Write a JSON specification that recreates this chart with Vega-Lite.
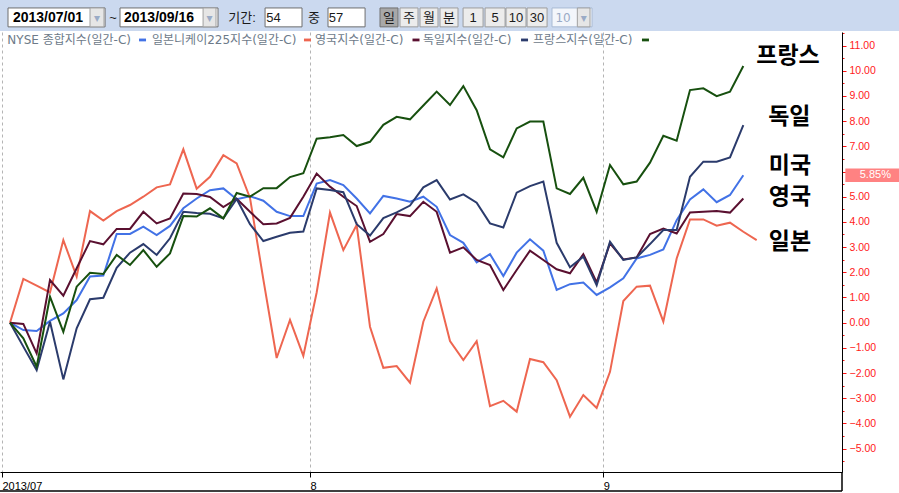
{
"$schema": "https://vega.github.io/schema/vega-lite/v6.json",
"width": 842, "height": 440,
"autosize": {"type": "none"},
"padding": {"left": 0, "top": 32, "right": 57, "bottom": 21},
"background": "white",
"view": {"stroke": null},
"config": {"font": "Liberation Sans"},
"resolve": {"axis": {"x": "independent", "y": "independent"}},
"datasets": {
"series": [
{"t":0,"s":"NYSE","v":0},{"t":1,"s":"NYSE","v":-0.29},{"t":2,"s":"NYSE","v":-0.33},{"t":3,"s":"NYSE","v":0.07},{"t":4,"s":"NYSE","v":0.37},{"t":5,"s":"NYSE","v":0.90},{"t":6,"s":"NYSE","v":1.83},{"t":7,"s":"NYSE","v":1.87},{"t":8,"s":"NYSE","v":3.52},{"t":9,"s":"NYSE","v":3.52},{"t":10,"s":"NYSE","v":3.81},{"t":11,"s":"NYSE","v":3.48},{"t":12,"s":"NYSE","v":3.84},{"t":13,"s":"NYSE","v":4.54},{"t":14,"s":"NYSE","v":4.93},{"t":15,"s":"NYSE","v":5.26},{"t":16,"s":"NYSE","v":5.33},{"t":17,"s":"NYSE","v":4.90},{"t":18,"s":"NYSE","v":5.02},{"t":19,"s":"NYSE","v":4.84},{"t":20,"s":"NYSE","v":4.40},{"t":21,"s":"NYSE","v":4.23},{"t":22,"s":"NYSE","v":4.23},{"t":23,"s":"NYSE","v":5.52},{"t":24,"s":"NYSE","v":5.66},{"t":25,"s":"NYSE","v":5.46},{"t":26,"s":"NYSE","v":4.93},{"t":27,"s":"NYSE","v":4.34},{"t":28,"s":"NYSE","v":5.03},{"t":29,"s":"NYSE","v":4.93},{"t":30,"s":"NYSE","v":4.80},{"t":31,"s":"NYSE","v":5.00},{"t":32,"s":"NYSE","v":4.60},{"t":33,"s":"NYSE","v":3.48},{"t":34,"s":"NYSE","v":3.17},{"t":35,"s":"NYSE","v":2.39},{"t":36,"s":"NYSE","v":2.72},{"t":37,"s":"NYSE","v":1.85},{"t":38,"s":"NYSE","v":2.78},{"t":39,"s":"NYSE","v":3.31},{"t":40,"s":"NYSE","v":2.86},{"t":41,"s":"NYSE","v":1.30},{"t":42,"s":"NYSE","v":1.53},{"t":43,"s":"NYSE","v":1.59},{"t":44,"s":"NYSE","v":1.10},{"t":45,"s":"NYSE","v":1.40},{"t":46,"s":"NYSE","v":1.76},{"t":47,"s":"NYSE","v":2.55},{"t":48,"s":"NYSE","v":2.69},{"t":49,"s":"NYSE","v":2.91},{"t":50,"s":"NYSE","v":4.07},{"t":51,"s":"NYSE","v":4.89},{"t":52,"s":"NYSE","v":5.29},{"t":53,"s":"NYSE","v":4.78},{"t":54,"s":"NYSE","v":5.07},{"t":55,"s":"NYSE","v":5.85},
{"t":0,"s":"JP","v":0},{"t":1,"s":"JP","v":1.74},{"t":2,"s":"JP","v":1.47},{"t":3,"s":"JP","v":1.20},{"t":4,"s":"JP","v":3.28},{"t":5,"s":"JP","v":1.83},{"t":6,"s":"JP","v":4.43},{"t":7,"s":"JP","v":4.05},{"t":8,"s":"JP","v":4.43},{"t":9,"s":"JP","v":4.67},{"t":10,"s":"JP","v":5.00},{"t":11,"s":"JP","v":5.37},{"t":12,"s":"JP","v":5.49},{"t":13,"s":"JP","v":6.88},{"t":14,"s":"JP","v":5.32},{"t":15,"s":"JP","v":5.79},{"t":16,"s":"JP","v":6.65},{"t":17,"s":"JP","v":6.32},{"t":18,"s":"JP","v":4.95},{"t":19,"s":"JP","v":1.72},{"t":20,"s":"JP","v":-1.40},{"t":21,"s":"JP","v":0.11},{"t":22,"s":"JP","v":-1.32},{"t":23,"s":"JP","v":1.20},{"t":24,"s":"JP","v":4.37},{"t":25,"s":"JP","v":2.88},{"t":26,"s":"JP","v":3.88},{"t":27,"s":"JP","v":-0.16},{"t":28,"s":"JP","v":-1.79},{"t":29,"s":"JP","v":-1.72},{"t":30,"s":"JP","v":-2.38},{"t":31,"s":"JP","v":0.04},{"t":32,"s":"JP","v":1.36},{"t":33,"s":"JP","v":-0.73},{"t":34,"s":"JP","v":-1.48},{"t":35,"s":"JP","v":-0.73},{"t":36,"s":"JP","v":-3.31},{"t":37,"s":"JP","v":-3.10},{"t":38,"s":"JP","v":-3.53},{"t":39,"s":"JP","v":-1.44},{"t":40,"s":"JP","v":-1.57},{"t":41,"s":"JP","v":-2.28},{"t":42,"s":"JP","v":-3.73},{"t":43,"s":"JP","v":-2.87},{"t":44,"s":"JP","v":-3.38},{"t":45,"s":"JP","v":-1.95},{"t":46,"s":"JP","v":0.86},{"t":47,"s":"JP","v":1.43},{"t":48,"s":"JP","v":1.47},{"t":49,"s":"JP","v":0.04},{"t":50,"s":"JP","v":2.55},{"t":51,"s":"JP","v":4.10},{"t":52,"s":"JP","v":4.10},{"t":53,"s":"JP","v":3.85},{"t":54,"s":"JP","v":3.97},{"t":55,"s":"JP","v":3.61},{"t":56,"s":"JP","v":3.28},
{"t":0,"s":"UK","v":0},{"t":1,"s":"UK","v":-0.05},{"t":2,"s":"UK","v":-1.22},{"t":3,"s":"UK","v":1.69},{"t":4,"s":"UK","v":1.07},{"t":5,"s":"UK","v":2.16},{"t":6,"s":"UK","v":3.24},{"t":7,"s":"UK","v":3.11},{"t":8,"s":"UK","v":3.72},{"t":9,"s":"UK","v":3.72},{"t":10,"s":"UK","v":4.40},{"t":11,"s":"UK","v":3.94},{"t":12,"s":"UK","v":4.14},{"t":13,"s":"UK","v":5.13},{"t":14,"s":"UK","v":5.11},{"t":15,"s":"UK","v":4.99},{"t":16,"s":"UK","v":4.59},{"t":17,"s":"UK","v":4.92},{"t":18,"s":"UK","v":4.40},{"t":19,"s":"UK","v":3.91},{"t":20,"s":"UK","v":3.94},{"t":21,"s":"UK","v":4.16},{"t":22,"s":"UK","v":5.00},{"t":23,"s":"UK","v":5.92},{"t":24,"s":"UK","v":5.40},{"t":25,"s":"UK","v":5.00},{"t":26,"s":"UK","v":4.63},{"t":27,"s":"UK","v":3.21},{"t":28,"s":"UK","v":3.52},{"t":29,"s":"UK","v":4.31},{"t":30,"s":"UK","v":4.23},{"t":31,"s":"UK","v":4.80},{"t":32,"s":"UK","v":4.40},{"t":33,"s":"UK","v":2.78},{"t":34,"s":"UK","v":2.99},{"t":35,"s":"UK","v":2.49},{"t":36,"s":"UK","v":2.29},{"t":37,"s":"UK","v":1.30},{"t":38,"s":"UK","v":2.09},{"t":39,"s":"UK","v":2.86},{"t":40,"s":"UK","v":2.49},{"t":41,"s":"UK","v":2.12},{"t":42,"s":"UK","v":1.96},{"t":43,"s":"UK","v":2.72},{"t":44,"s":"UK","v":1.60},{"t":45,"s":"UK","v":3.15},{"t":46,"s":"UK","v":2.51},{"t":47,"s":"UK","v":2.59},{"t":48,"s":"UK","v":3.52},{"t":49,"s":"UK","v":3.74},{"t":50,"s":"UK","v":3.54},{"t":51,"s":"UK","v":4.37},{"t":52,"s":"UK","v":4.40},{"t":53,"s":"UK","v":4.43},{"t":54,"s":"UK","v":4.37},{"t":55,"s":"UK","v":4.93},
{"t":0,"s":"DE","v":0},{"t":1,"s":"DE","v":-0.95},{"t":2,"s":"DE","v":-1.88},{"t":3,"s":"DE","v":0.04},{"t":4,"s":"DE","v":-2.25},{"t":5,"s":"DE","v":-0.22},{"t":6,"s":"DE","v":0.93},{"t":7,"s":"DE","v":0.99},{"t":8,"s":"DE","v":2.18},{"t":9,"s":"DE","v":2.78},{"t":10,"s":"DE","v":3.12},{"t":11,"s":"DE","v":2.69},{"t":12,"s":"DE","v":3.35},{"t":13,"s":"DE","v":4.40},{"t":14,"s":"DE","v":4.35},{"t":15,"s":"DE","v":4.32},{"t":16,"s":"DE","v":4.14},{"t":17,"s":"DE","v":4.91},{"t":18,"s":"DE","v":3.91},{"t":19,"s":"DE","v":3.24},{"t":20,"s":"DE","v":3.41},{"t":21,"s":"DE","v":3.57},{"t":22,"s":"DE","v":3.62},{"t":23,"s":"DE","v":5.33},{"t":24,"s":"DE","v":5.27},{"t":25,"s":"DE","v":5.18},{"t":26,"s":"DE","v":3.91},{"t":27,"s":"DE","v":3.46},{"t":28,"s":"DE","v":4.15},{"t":29,"s":"DE","v":4.38},{"t":30,"s":"DE","v":4.65},{"t":31,"s":"DE","v":5.37},{"t":32,"s":"DE","v":5.66},{"t":33,"s":"DE","v":4.89},{"t":34,"s":"DE","v":5.09},{"t":35,"s":"DE","v":4.76},{"t":36,"s":"DE","v":3.94},{"t":37,"s":"DE","v":3.78},{"t":38,"s":"DE","v":5.16},{"t":39,"s":"DE","v":5.42},{"t":40,"s":"DE","v":5.60},{"t":41,"s":"DE","v":3.17},{"t":42,"s":"DE","v":2.20},{"t":43,"s":"DE","v":2.62},{"t":44,"s":"DE","v":1.49},{"t":45,"s":"DE","v":3.21},{"t":46,"s":"DE","v":2.49},{"t":47,"s":"DE","v":2.59},{"t":48,"s":"DE","v":3.12},{"t":49,"s":"DE","v":3.68},{"t":50,"s":"DE","v":3.68},{"t":51,"s":"DE","v":5.79},{"t":52,"s":"DE","v":6.39},{"t":53,"s":"DE","v":6.39},{"t":54,"s":"DE","v":6.56},{"t":55,"s":"DE","v":7.84},
{"t":0,"s":"FR","v":0},{"t":1,"s":"FR","v":-0.62},{"t":2,"s":"FR","v":-1.75},{"t":3,"s":"FR","v":1.03},{"t":4,"s":"FR","v":-0.36},{"t":5,"s":"FR","v":1.43},{"t":6,"s":"FR","v":1.98},{"t":7,"s":"FR","v":1.93},{"t":8,"s":"FR","v":2.69},{"t":9,"s":"FR","v":2.29},{"t":10,"s":"FR","v":2.88},{"t":11,"s":"FR","v":2.22},{"t":12,"s":"FR","v":2.75},{"t":13,"s":"FR","v":4.23},{"t":14,"s":"FR","v":4.21},{"t":15,"s":"FR","v":4.54},{"t":16,"s":"FR","v":4.14},{"t":17,"s":"FR","v":5.15},{"t":18,"s":"FR","v":5.00},{"t":19,"s":"FR","v":5.34},{"t":20,"s":"FR","v":5.34},{"t":21,"s":"FR","v":5.78},{"t":22,"s":"FR","v":5.93},{"t":23,"s":"FR","v":7.30},{"t":24,"s":"FR","v":7.36},{"t":25,"s":"FR","v":7.45},{"t":26,"s":"FR","v":7.01},{"t":27,"s":"FR","v":7.18},{"t":28,"s":"FR","v":7.85},{"t":29,"s":"FR","v":8.17},{"t":30,"s":"FR","v":8.07},{"t":31,"s":"FR","v":8.62},{"t":32,"s":"FR","v":9.17},{"t":33,"s":"FR","v":8.64},{"t":34,"s":"FR","v":9.39},{"t":35,"s":"FR","v":8.43},{"t":36,"s":"FR","v":6.88},{"t":37,"s":"FR","v":6.56},{"t":38,"s":"FR","v":7.71},{"t":39,"s":"FR","v":7.98},{"t":40,"s":"FR","v":7.98},{"t":41,"s":"FR","v":5.33},{"t":42,"s":"FR","v":5.11},{"t":43,"s":"FR","v":5.75},{"t":44,"s":"FR","v":4.40},{"t":45,"s":"FR","v":6.26},{"t":46,"s":"FR","v":5.49},{"t":47,"s":"FR","v":5.60},{"t":48,"s":"FR","v":6.35},{"t":49,"s":"FR","v":7.42},{"t":50,"s":"FR","v":7.22},{"t":51,"s":"FR","v":9.23},{"t":52,"s":"FR","v":9.30},{"t":53,"s":"FR","v":8.99},{"t":54,"s":"FR","v":9.17},{"t":55,"s":"FR","v":10.19}
],
"legend": [
{"s":"NYSE","label":"NYSE 종합지수(일간-C)","lt":-0.2,"dt":9.94},
{"s":"JP","label":"일본니케이225지수(일간-C)","lt":10.65,"dt":22.31},
{"s":"UK","label":"영국지수(일간-C)","lt":22.88,"dt":30.45},
{"s":"DE","label":"독일지수(일간-C)","lt":30.98,"dt":38.59},
{"s":"FR","label":"프랑스지수(일간-C)","lt":39.23,"dt":47.66}
],
"notes": [
{"label":"프랑스","t":58.35,"v":10.58},
{"label":"독일","t":58.45,"v":8.16},
{"label":"미국","t":58.5,"v":6.22},
{"label":"영국","t":58.5,"v":4.99},
{"label":"일본","t":58.5,"v":3.20}
],
"badge": [{"label":"5.85%","v":5.85}],
"tb": [
{"k":"in","a":-0.15,"b":7.13},{"k":"dd","a":6.0,"b":7.05},{"k":"in","a":8.25,"b":15.6},{"k":"dd","a":14.48,"b":15.45},{"k":"in","a":19.13,"b":21.9},{"k":"in","a":23.85,"b":26.63},{"k":"on","a":27.75,"b":29.1},{"k":"btn","a":29.25,"b":30.6},{"k":"btn","a":30.75,"b":32.1},{"k":"btn","a":32.25,"b":33.6},{"k":"btn","a":33.98,"b":35.48},{"k":"btn","a":35.63,"b":37.13},{"k":"btn","a":37.2,"b":38.7},{"k":"btn","a":38.78,"b":40.28},{"k":"off","a":40.65,"b":43.65},{"k":"dd","a":42.55,"b":43.5}
],
"tt1": [{"txt":"2013/07/01","t":0.22},{"txt":"2013/09/16","t":8.55}],
"tt2": [{"txt":"~","t":7.73},{"txt":"기간:","t":17.4},{"txt":"54","t":19.76},{"txt":"중","t":22.8},{"txt":"57","t":24.45},{"txt":"일","t":28.43},{"txt":"주","t":29.93},{"txt":"월","t":31.43},{"txt":"분","t":32.93},{"txt":"1","t":34.73},{"txt":"5","t":36.38},{"txt":"10","t":37.95},{"txt":"30","t":39.53}],
"tt3": [{"txt":"▾","t":6.53},{"txt":"▾","t":14.96},{"txt":"10","t":41.48},{"txt":"▾","t":43.03}]
},
"layer": [
{
"data": {"name": "series"},
"mark": {"type": "line", "strokeWidth": 2},
"encoding": {
"x": {"field": "t", "type": "quantitative", "scale": {"domain": [-0.75, 62.4], "nice": false, "zero": false},
"axis": {"orient": "bottom", "values": [-0.6, 22.5, 44.5], "labelExpr": "datum.value < 0 ? '2013/07' : (datum.value < 30 ? '8' : '9')", "labelAlign": "left", "labelFlush": false, "labelBaseline": "top", "labelPadding": 3, "labelOverlap": false, "tickSize": 5, "tickColor": "black", "domainColor": "black", "grid": true, "gridColor": "#b4b4b4", "gridDash": [3, 3], "title": null, "labelColor": "black", "labelFontSize": 11, "labelFont": "Liberation Sans"}},
"y": {"field": "v", "type": "quantitative", "scale": {"domain": [-5.925, 11.536], "nice": false, "zero": false},
"axis": {"orient": "right", "values": [-5.5,-5,-4.5,-4,-3.5,-3,-2.5,-2,-1.5,-1,-0.5,0,0.5,1,1.5,2,2.5,3,3.5,4,4.5,5,5.5,6,6.5,7,7.5,8,8.5,9,9.5,10,10.5,11,11.5],
"labelExpr": "datum.value % 1 === 0 && datum.value !== 6 ? format(datum.value, '.2f') : ''",
"tickSize": {"condition": {"test": "datum.value % 1 !== 0", "value": 2}, "value": 4},
"tickColor": "#ff1010", "labelColor": "#ff1a1a", "domainColor": "black", "grid": false, "title": null,
"labelFontSize": 10.5, "labelPadding": 3, "labelOverlap": false, "labelFont": "Liberation Sans"}},
"color": {"field": "s", "type": "nominal", "scale": {"domain": ["NYSE", "JP", "UK", "DE", "FR"], "range": ["#4272e6", "#ee6650", "#5a1030", "#2b3b6c", "#17500f"]}, "legend": null}
}
},
{
"data": {"values": [{}]},
"mark": {"type": "rect", "fill": "#cbd9ef"},
"encoding": {"x": {"datum": -0.75, "type": "quantitative", "axis": null}, "x2": {"datum": 66.75}, "y": {"datum": 12.81, "type": "quantitative", "axis": null}, "y2": {"datum": 11.58}}
},
{
"data": {"name": "tb"},
"mark": {"type": "rect", "strokeWidth": 1},
"encoding": {
"x": {"field": "a", "type": "quantitative", "axis": null}, "x2": {"field": "b"},
"y": {"datum": 12.49, "type": "quantitative", "axis": null}, "y2": {"datum": 11.74},
"fill": {"field": "k", "type": "nominal", "scale": {"domain": ["in", "dd", "on", "btn", "off"], "range": ["#ffffff", "#e6e6e6", "#a8a8a8", "#ececec", "#f3f6fb"]}, "legend": null},
"stroke": {"field": "k", "type": "nominal", "scale": {"domain": ["in", "dd", "on", "btn", "off"], "range": ["#6e6e6e", "#a0a0a0", "#707070", "#9c9c9c", "#a9bad3"]}, "legend": null}
}
},
{
"data": {"name": "tt1"},
"mark": {"type": "text", "align": "left", "baseline": "middle", "fontSize": 14, "fontWeight": "bold", "font": "Liberation Sans", "color": "black"},
"encoding": {"x": {"field": "t", "type": "quantitative", "axis": null}, "y": {"datum": 12.1, "type": "quantitative", "axis": null}, "text": {"field": "txt"}}
},
{
"data": {"name": "tt2"},
"mark": {"type": "text", "align": "center", "baseline": "middle", "fontSize": 13, "font": "Liberation Sans, Noto Sans CJK KR", "color": "#1a1a1a"},
"encoding": {"x": {"field": "t", "type": "quantitative", "axis": null}, "y": {"datum": 12.1, "type": "quantitative", "axis": null}, "text": {"field": "txt"}}
},
{
"data": {"name": "tt3"},
"mark": {"type": "text", "align": "center", "baseline": "middle", "fontSize": 12, "font": "DejaVu Sans", "color": "#9aabc6"},
"encoding": {"x": {"field": "t", "type": "quantitative", "axis": null}, "y": {"datum": 12.1, "type": "quantitative", "axis": null}, "text": {"field": "txt"}}
},
{
"data": {"name": "legend"},
"mark": {"type": "text", "align": "left", "baseline": "middle", "fontSize": 12, "font": "DejaVu Sans, Noto Sans CJK KR", "color": "#6d7a89"},
"encoding": {"x": {"field": "lt", "type": "quantitative", "axis": null}, "y": {"datum": 11.22, "type": "quantitative", "axis": null}, "text": {"field": "label"}}
},
{
"data": {"name": "legend"},
"mark": {"type": "point", "shape": "M-1,-0.4L1,-0.4L1,0.4L-1,0.4Z", "filled": true, "size": 49, "opacity": 1},
"encoding": {"x": {"field": "dt", "type": "quantitative", "axis": null}, "y": {"datum": 11.22, "type": "quantitative", "axis": null}, "color": {"field": "s", "type": "nominal", "legend": null}}
},
{
"data": {"name": "notes"},
"mark": {"type": "text", "align": "center", "baseline": "middle", "fontSize": 23, "fontWeight": "bold", "font": "Noto Sans CJK KR", "color": "black"},
"encoding": {"x": {"field": "t", "type": "quantitative", "axis": null}, "y": {"field": "v", "type": "quantitative", "axis": null}, "text": {"field": "label"}}
},
{
"data": {"name": "badge"},
"mark": {"type": "point", "shape": "M-1,-0.24L1,-0.24L1,0.24L-1,0.24Z", "filled": true, "size": 3136, "opacity": 1, "color": "#ff8282"},
"encoding": {"x": {"datum": 64.75, "type": "quantitative", "axis": null}, "y": {"field": "v", "type": "quantitative", "axis": null}}
},
{
"data": {"name": "badge"},
"mark": {"type": "text", "align": "center", "baseline": "middle", "fontSize": 11, "font": "Liberation Sans", "color": "white"},
"encoding": {"x": {"datum": 64.9, "type": "quantitative", "axis": null}, "y": {"field": "v", "type": "quantitative", "axis": null}, "text": {"field": "label"}}
},
{
"data": {"values": [{}]},
"mark": {"type": "rule", "color": "black", "strokeWidth": 1.5},
"encoding": {"x": {"datum": -0.75, "type": "quantitative", "axis": null}, "x2": {"datum": 62.4}, "y": {"datum": -6.68, "type": "quantitative", "axis": null}}
},
{
"data": {"values": [{}]},
"mark": {"type": "rule", "color": "black", "strokeWidth": 1.5},
"encoding": {"x": {"datum": 62.4, "type": "quantitative", "axis": null}, "y": {"datum": -5.925, "type": "quantitative", "axis": null}, "y2": {"datum": -6.68}}
}
]
}
